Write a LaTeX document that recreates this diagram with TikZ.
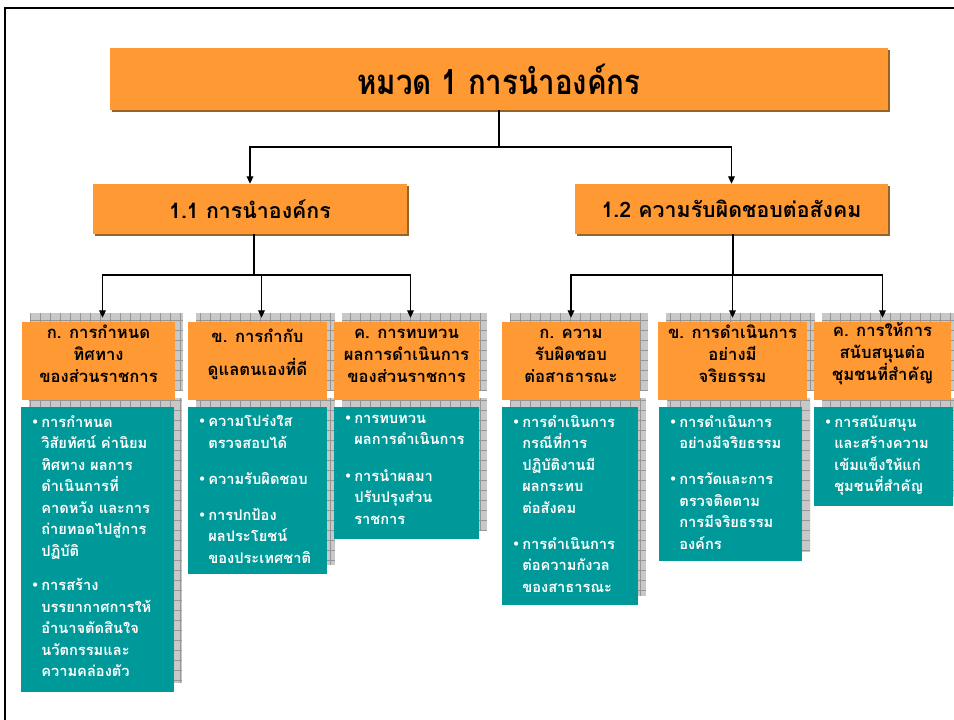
\documentclass[tikz,border=0pt]{standalone}
\usepackage{fontspec}
\usepackage{graphicx}
\newfontfamily\thai[Script=Thai]{Loma}
\newfontfamily\dejavu{DejaVu Sans}
\usetikzlibrary{fit,shadows,arrows.meta}
\definecolor{orng}{RGB}{255,153,51}
\definecolor{teal1}{RGB}{0,153,153}
\definecolor{brn}{RGB}{150,100,40}
\definecolor{hatchfill}{RGB}{200,200,200}
\definecolor{hatchline}{RGB}{150,150,150}
\newcommand\bul{\makebox[7.5pt][l]{\raisebox{0.8pt}{\dejavu\fontsize{9}{9}\selectfont •}}}
\newcommand\ind{\hspace*{7.5pt}}
\newcommand\hatchbox[4]{%
  \begin{scope}
    \clip (#1+8,#2-9) rectangle (#3+8,#4-9);
    \fill[hatchfill] (#1+8,#2-9) rectangle (#3+8,#4-9);
    \draw[hatchline,line width=0.4pt,step=7.5pt] (#1+8,#2-9) grid (#3+8,#4-9);
  \end{scope}}
\tikzset{
  topbox/.style={fill=orng, inner sep=0pt, drop shadow={shadow xshift=1.5pt, shadow yshift=-1.5pt, fill=brn, opacity=1}, font=\thai\bfseries},
  obox/.style={fill=orng, inner sep=0pt, align=center, font=\thai\bfseries\fontsize{12.5}{16.5}\selectfont},
  tbox/.style={fill=teal1, inner sep=0pt},
  ttext/.style={anchor=north west, inner sep=0pt, align=left, text=white, font=\thai\bfseries\fontsize{11}{16.1}\selectfont},
  conn/.style={black, line width=0.9pt},
  arr/.style={conn, -{Triangle[width=5pt,length=5.5pt]}},
  arrs/.style={arr, shorten >=3pt}
}
\begin{document}
\begin{tikzpicture}[x=0.75pt,y=-0.75pt]
\useasboundingbox (0,0) rectangle (954,720);
% frame
\draw[line width=2.2pt] (5,720) -- (5,8) -- (954,8);

% top level boxes
\node[topbox, fit={(110,48) (888,110)}] (T) {};
\node[font=\thai\bfseries\fontsize{26}{30}\selectfont] (Tt) at (T.center) {\scalebox{0.85}[1]{หมวด 1 การนำองค์กร}};
\node[topbox, fit={(93,184) (407,234)}] (A1) {};
\node[font=\thai\bfseries\fontsize{16}{20}\selectfont] (A1t) at (A1.center) {1.1 การนำองค์กร};
\node[topbox, fit={(575,184) (888,234)}] (A2) {};
\node[font=\thai\bfseries\fontsize{16}{20}\selectfont] (A2t) at (A2.center) {1.2 ความรับผิดชอบต่อสังคม};

% hatched shadows
\hatchbox{22}{322}{175}{400}
\hatchbox{188}{322}{327}{400}
\hatchbox{334}{322}{479}{400}
\hatchbox{502}{322}{640}{400}
\hatchbox{658}{322}{807}{400}
\hatchbox{814}{322}{951}{400}
\hatchbox{21}{407}{174}{692}
\hatchbox{188}{407}{327}{574}
\hatchbox{334}{407}{479}{539}
\hatchbox{502}{407}{638}{605}
\hatchbox{659}{407}{802}{561}
\hatchbox{814}{407}{953}{506}

% level 3 orange boxes
\node[obox, fit={(22,322) (175,400)}] (B1) {ก. การกำหนด\\ทิศทาง\\ของส่วนราชการ};
\node[obox, fit={(188,322) (327,400)}] (B2) {ข. การกำกับ\\[8pt]ดูแลตนเองที่ดี};
\node[obox, fit={(334,322) (479,400)}] (B3) {ค. การทบทวน\\ผลการดำเนินการ\\ของส่วนราชการ};
\node[obox, fit={(502,322) (640,400)}] (B4) {ก. ความ\\รับผิดชอบ\\ต่อสาธารณะ};
\node[obox, fit={(658,322) (807,400)}] (B5) {ข. การดำเนินการ\\อย่างมี\\จริยธรรม};
\node[obox, fit={(814,322) (951,400)}] (B6) {ค. การให้การ\\สนับสนุนต่อ\\ชุมชนที่สำคัญ};

% teal boxes
\node[tbox, fit={(21,407) (174,692)}] (C1) {};
\node[tbox, fit={(188,407) (327,574)}] (C2) {};
\node[tbox, fit={(334,407) (479,539)}] (C3) {};
\node[tbox, fit={(502,407) (638,605)}] (C4) {};
\node[tbox, fit={(659,407) (802,561)}] (C5) {};
\node[tbox, fit={(814,407) (953,506)}] (C6) {};

\node[ttext] (C1t) at (31,415) {\bul การกำหนด\\\ind วิสัยทัศน์ ค่านิยม\\\ind ทิศทาง ผลการ\\\ind ดำเนินการที่\\\ind คาดหวัง และการ\\\ind ถ่ายทอดไปสู่การ\\\ind ปฏิบัติ\\[10pt]\bul การสร้าง\\\ind บรรยากาศการให้\\\ind อำนาจตัดสินใจ\\\ind นวัตกรรมและ\\\ind ความคล่องตัว};
\node[ttext] (C2t) at (198,415) {\bul ความโปร่งใส\\\ind ตรวจสอบได้\\[11pt]\bul ความรับผิดชอบ\\[11pt]\bul การปกป้อง\\\ind ผลประโยชน์\\\ind ของประเทศชาติ};
\node[ttext] (C3t) at (344,415) {\bul การทบทวน\\\ind ผลการดำเนินการ\\[11pt]\bul การนำผลมา\\\ind ปรับปรุงส่วน\\\ind ราชการ};
\node[ttext] (C4t) at (512,415) {\bul การดำเนินการ\\\ind กรณีที่การ\\\ind ปฏิบัติงานมี\\\ind ผลกระทบ\\\ind ต่อสังคม\\[11pt]\bul การดำเนินการ\\\ind ต่อความกังวล\\\ind ของสาธารณะ};
\node[ttext] (C5t) at (669,415) {\bul การดำเนินการ\\\ind อย่างมีจริยธรรม\\[11pt]\bul การวัดและการ\\\ind ตรวจติดตาม\\\ind การมีจริยธรรม\\\ind องค์กร};
\node[ttext] (C6t) at (824,415) {\bul การสนับสนุน\\\ind และสร้างความ\\\ind เข้มแข็งให้แก่\\\ind ชุมชนที่สำคัญ};

% connectors
\coordinate (J0) at (499,147);
\draw[conn] (T.south) -- (J0);
\draw[arr] (J0) -| (A1.north);
\draw[arr] (J0) -| (A2.north);
\coordinate (J1) at (254,275);
\coordinate (J2) at (733,275);
\draw[conn] (A1.south -| J1) -- (J1);
\draw[conn] (A2.south -| J2) -- (J2);
\draw[arrs] (J1) -| ([xshift=3pt]B1.north);
\draw[arrs] (J1) -| ([xshift=3pt]B2.north);
\draw[arrs] (J1) -| ([xshift=3pt]B3.north);
\draw[arrs] (J2) -| (B4.north);
\draw[arrs] (J2) -| (B5.north);
\draw[arrs] (J2) -| (B6.north);
\end{tikzpicture}
\end{document}
